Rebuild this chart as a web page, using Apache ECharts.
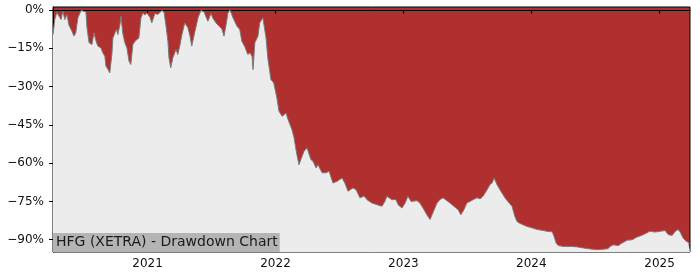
<!DOCTYPE html>
<html>
<head>
<meta charset="utf-8">
<script src="https://cdn.jsdelivr.net/npm/echarts@6/dist/echarts.min.js"></script>
<style>
html,body{margin:0;padding:0;background:#fff;}
#chart{width:700px;height:280px;}
</style>
</head>
<body>
<div id="chart"></div>
<script>
const dates = [
'2020-04-06','2020-04-09','2020-04-11','2020-04-17','2020-04-20','2020-04-29','2020-05-04','2020-05-10','2020-05-16','2020-05-21','2020-05-30','2020-06-05','2020-06-10','2020-06-16','2020-06-25','2020-06-30','2020-07-09','2020-07-12','2020-07-18','2020-07-26','2020-08-01','2020-08-07','2020-08-12','2020-08-21','2020-08-26','2020-09-01','2020-09-04','2020-09-10','2020-09-15','2020-09-21','2020-09-24','2020-09-30','2020-10-05','2020-10-08','2020-10-14','2020-10-17','2020-10-22','2020-10-28','2020-11-03','2020-11-09','2020-11-14','2020-11-20','2020-11-26','2020-12-01','2020-12-07','2020-12-13','2020-12-19','2020-12-24','2020-12-30',
'2021-01-02','2021-01-08','2021-01-13','2021-01-22','2021-01-30','2021-02-11','2021-02-17','2021-02-22','2021-02-28','2021-03-03','2021-03-08','2021-03-14','2021-03-23','2021-03-28','2021-04-03','2021-04-09','2021-04-17','2021-04-26','2021-05-02','2021-05-07','2021-05-16','2021-05-25','2021-06-02','2021-06-11','2021-06-22','2021-07-01','2021-07-06','2021-07-15','2021-07-24','2021-08-01','2021-08-07','2021-08-13','2021-08-18','2021-08-24','2021-09-02','2021-09-13','2021-09-21','2021-09-27','2021-10-06','2021-10-14','2021-10-20','2021-10-26','2021-10-29','2021-11-03','2021-11-12','2021-11-17','2021-11-26','2021-12-05','2021-12-10','2021-12-19','2021-12-27',
'2022-01-05','2022-01-11','2022-01-20','2022-01-25','2022-01-31','2022-02-06','2022-02-17','2022-02-23','2022-03-03','2022-03-09','2022-03-18','2022-03-23','2022-04-01','2022-04-12','2022-04-18','2022-04-27','2022-05-02','2022-05-14','2022-05-25','2022-06-03','2022-06-14','2022-06-26','2022-07-10','2022-07-18','2022-07-27','2022-08-10','2022-08-19','2022-08-30','2022-09-11','2022-09-19','2022-10-03','2022-10-18','2022-11-01','2022-11-09','2022-11-15','2022-11-29','2022-12-11','2022-12-17','2022-12-28',
'2023-01-06','2023-01-14','2023-01-23','2023-01-28','2023-02-09','2023-02-17','2023-02-26','2023-03-09','2023-03-18','2023-03-26','2023-04-07','2023-04-15','2023-04-24','2023-05-05','2023-05-14','2023-05-25','2023-06-06','2023-06-14','2023-06-23','2023-07-01','2023-07-10','2023-07-19','2023-07-30','2023-08-08','2023-08-16','2023-08-28','2023-09-05','2023-09-11','2023-09-17','2023-09-25','2023-10-04','2023-10-18','2023-10-26','2023-11-07','2023-11-15','2023-11-21','2023-11-27','2023-12-08','2023-12-20',
'2024-01-04','2024-01-18','2024-02-01','2024-02-15','2024-03-01','2024-03-06','2024-03-12','2024-03-18','2024-04-01','2024-04-21','2024-05-11','2024-05-28','2024-06-17','2024-07-07','2024-07-24','2024-08-07','2024-08-13','2024-08-22','2024-09-05','2024-09-16','2024-10-01','2024-10-15','2024-10-29','2024-11-11','2024-11-26','2024-12-04','2024-12-20',
'2025-01-03','2025-01-17','2025-01-26','2025-02-06','2025-02-15','2025-02-23','2025-03-01','2025-03-09','2025-03-18','2025-03-24','2025-03-29'
];
const drawdown = [
-9.7,-9.7,-3.8,-1.0,-0.5,-3.8,-0.5,-3.8,-1.8,-5.8,-8.4,-10.3,-9,-3.1,-0.3,0,-0.8,-7,-12.9,-13.6,-9,-12.3,-14.2,-14.9,-16.8,-18.2,-22,-23.4,-24.7,-17.5,-11,-9,-7.7,-9.7,-5.8,-2.5,-9,-12.9,-14.9,-20.1,-21.4,-13.6,-12.3,-12.9,-11,-3.1,-1.2,-2.0,-1.2,
-1.5,-3,-5.1,-1.4,-1.8,-0.3,-1.0,-5.8,-12.3,-18.8,-22.7,-18.8,-15.5,-17.5,-14,-9.7,-5.1,-7,-10.3,-14.2,-8.5,-3.1,-0.3,-0.8,-4.5,-1.4,-3.2,-5.1,-6.4,-7.5,-10.3,-5.8,-1.4,0,-3.2,-6.4,-7.7,-12.3,-14.6,-17.5,-16.8,-18.2,-23.4,-12.9,-10.3,-5.1,-3.1,-11,-18.8,-27.3,-28.6,
-34.5,-39.7,-41.7,-41,-40.4,-43,-46.9,-50.1,-56.7,-60.6,-57.3,-55.5,-54,-58.6,-59.3,-61.9,-60.6,-63.8,-63.8,-63.2,-67.8,-67.1,-65.8,-67.8,-71,-69.7,-70.4,-73.6,-72.9,-74.3,-75.6,-76.3,-76.9,-75,-73,-74.3,-74.3,-76.3,-77.6,
-75.6,-73,-75,-75.6,-74.7,-75.6,-77.6,-80.2,-82.1,-79.5,-75.6,-74.3,-73.6,-74.7,-75.6,-76.9,-78.2,-80.2,-78.2,-75.6,-75,-74.3,-73.6,-74,-73,-70.4,-68.4,-67.8,-65.8,-68.4,-70.5,-73.6,-75,-76.9,-80.8,-82.8,-83.4,-84.1,-84.8,
-85.4,-86,-86.3,-86.7,-86.9,-88.7,-91.3,-92.3,-92.6,-92.6,-92.8,-93.2,-93.6,-93.9,-93.7,-93.5,-92.6,-92,-92.3,-91.3,-90.2,-90,-88.9,-88.3,-87.3,-86.7,-87,
-86.7,-86.4,-88,-88.3,-86.7,-86,-87,-89.3,-90.6,-91,-91.5
];
const yTickValues = [0, -15, -30, -45, -60, -75, -90];
const xTickYears = ['2021-01-01','2022-01-01','2023-01-01','2024-01-01','2025-01-01'];
const titleText = 'HFG (XETRA) - Drawdown Chart';

function ts(s){ const p = s.split('-').map(Number); return new Date(p[0], p[1]-1, p[2]).getTime(); }
const seriesData = dates.map((d, i) => [ts(d), drawdown[i]]);
const FONT = 'DejaVu Sans';

const chart = echarts.init(document.getElementById('chart'), null, {renderer: 'canvas'});
chart.setOption({
  animation: false,
  backgroundColor: '#ffffff',
  grid: {
    left: 53, right: 10, top: 7, bottom: 28,
    show: true, backgroundColor: '#b03030', borderColor: '#000', borderWidth: 1
  },
  xAxis: {
    type: 'value',
    min: ts(dates[0]), max: ts(dates[dates.length-1]),
    axisLine: {show: true, lineStyle: {color: '#000', width: 1}},
    axisTick: {show: true, customValues: xTickYears.map(ts), length: 4, lineStyle: {color: '#000'}},
    axisLabel: {
      customValues: xTickYears.map(ts),
      formatter: v => String(new Date(v).getFullYear()),
      color: '#111', fontFamily: FONT, fontSize: 12, margin: 6
    },
    splitLine: {show: false}
  },
  yAxis: {
    type: 'value',
    min: -94.8, max: 1.1,
    axisLine: {show: true, lineStyle: {color: '#000', width: 1}},
    axisTick: {show: true, customValues: yTickValues, length: 4, lineStyle: {color: '#000'}},
    axisLabel: {
      customValues: yTickValues,
      formatter: v => (v < 0 ? '\u2212' : '') + Math.abs(v) + '%',
      color: '#111', fontFamily: FONT, fontSize: 12, margin: 9
    },
    splitLine: {show: false}
  },
  series: [{
    type: 'line',
    data: seriesData,
    showSymbol: false,
    symbol: 'none',
    lineStyle: {color: '#7a7a7a', width: 1},
    areaStyle: {color: '#ececec', opacity: 1, origin: 'start'}
  }],
  graphic: [{
    type: 'text', left: 53, top: 233, z: 100,
    style: {
      text: titleText,
      font: '14px "DejaVu Sans"',
      fill: '#1a1a1a',
      backgroundColor: '#b4b4b4',
      padding: [2, 2, 2, 3],
      lineHeight: 15
    }
  }]
});
</script>
</body>
</html>
